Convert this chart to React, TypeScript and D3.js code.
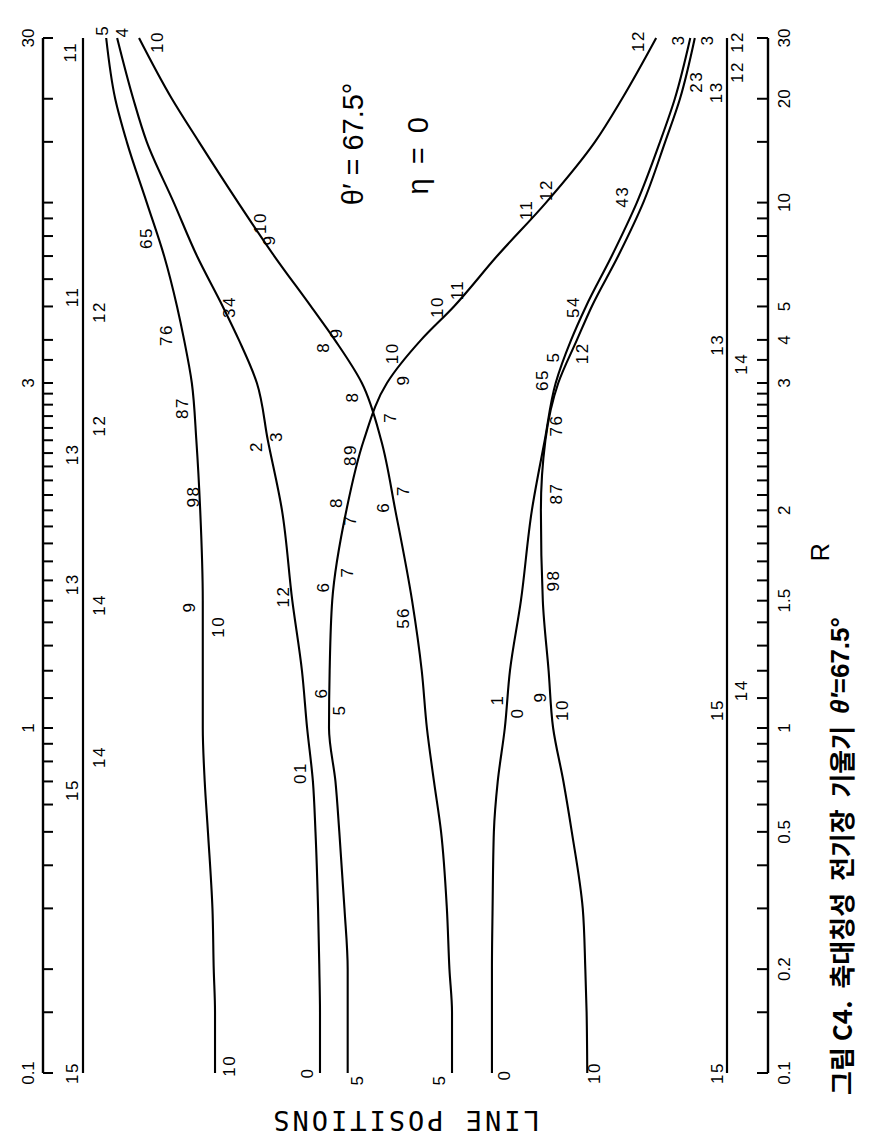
import React from 'react';
import * as d3 from 'd3';

// R values at which the curves were read
const R_GRID = [0.1, 0.15, 0.2, 0.3, 0.5, 0.7, 1, 1.2, 1.5, 2, 2.5, 3, 4, 5, 7, 10, 15, 20, 30];

// line positions (0 = upper outer line, 100 = lower outer line)
const lineB = [20.5, 20.5, 20.3, 20.1, 19.4, 18.9, 18.6, 18.6, 18.6, 18.2, 17.6, 16.9, 15.7, 14.6, 12.6, 9.9, 6.8, 5.0, 3.6];
const lineC = [36.8, 36.8, 36.7, 36.5, 36.1, 35.7, 34.8, 34.0, 32.5, 30.9, 28.7, 27.0, 24.2, 21.7, 17.7, 14.1, 9.9, 7.8, 5.3];
const lineD = [41.1, 41.1, 41.1, 40.6, 39.8, 39.2, 38.2, 38.3, 38.7, 40.9, 43.6, 47.2, 52.5, 57.6, 64.3, 71.9, 79.5, 83.7, 89.0];
const lineE = [57.3, 57.3, 56.9, 56.5, 55.6, 54.5, 53.4, 52.6, 51.1, 48.5, 46.3, 43.3, 39.1, 35.4, 29.7, 24.1, 18.0, 13.8, 8.7];
const lineF = [63.5, 63.5, 63.5, 63.6, 63.8, 64.4, 65.5, 66.3, 68.0, 69.7, 71.7, 73.4, 75.8, 78.1, 82.1, 86.0, 89.6, 91.9, 94.3];
const lineG = [78.3, 78.2, 78.0, 77.6, 75.9, 74.6, 73.0, 72.3, 71.4, 71.1, 71.8, 73.8, 76.7, 79.0, 83.1, 87.0, 90.4, 92.7, 95.0];
const outerLines = [0, 100];

const CURVES = [lineB, lineC, lineD, lineE, lineF, lineG];

// axis ticks
const AXIS_TICKS = [
  0.1, 0.15, 0.2, 0.3, 0.4, 0.5, 0.6, 0.7, 0.8, 0.9,
  1.0, 1.1, 1.2, 1.3, 1.4, 1.5, 1.6, 1.7, 1.8, 1.9,
  2.0, 2.1, 2.2, 2.3, 2.4, 2.5, 2.6, 2.7, 2.8, 2.9,
  3, 3.5, 4, 5, 6, 7, 8, 9, 10, 15, 20, 30,
];
const BOTTOM_LABELS = [0.1, 0.2, 0.5, 1, 1.5, 2, 3, 4, 5, 10, 20, 30];
const TOP_LABELS = [0.1, 1, 3, 30];

// curve labels: [R, line position, text]
const CURVE_LABELS: [number, number, string][] = [
  [27.3, -2.0, '11'], [5.33, -1.7, '11'], [4.82, 2.6, '12'], [2.62, 2.6, '12'],
  [2.39, -1.7, '13'], [1.58, -1.7, '13'], [1.48, 2.6, '14'], [0.824, 2.6, '14'],
  [0.661, -1.7, '15'], [0.1, -1.7, '15'],
  [31.6, 3.1, '5'], [7.9, 9.9, '65'], [4.13, 12.9, '76'], [2.77, 15.5, '87'],
  [2.09, 17.1, '98'], [1.47, 16.6, '9'], [1.38, 21.0, '10'], [0.105, 22.8, '10'],
  [0.1, 34.9, '0'], [0.741, 33.7, '01'], [1.118, 37.1, '6'], [1.52, 31.1, '12'],
  [2.45, 27.0, '2'], [2.53, 30.1, '3'], [4.98, 22.8, '34'], [31.2, 6.2, '4'],
  [0.0954, 42.7, '5'], [1.059, 39.9, '5'], [1.567, 37.3, '6'], [1.643, 41.1, '7'],
  [1.94, 41.5, '7'], [2.05, 39.4, '8'], [2.385, 41.5, '89'], [2.87, 41.9, '8'],
  [2.69, 47.7, '7'], [3.06, 49.7, '9'], [3.66, 48.1, '10'], [4.98, 55.0, '10'],
  [5.58, 58.1, '11'], [9.52, 68.9, '11'], [10.88, 72.0, '12'], [29.4, 86.2, '12'],
  [0.0954, 55.4, '5'], [1.42, 49.7, '56'], [2.02, 46.6, '6'], [2.13, 49.7, '7'],
  [3.81, 37.3, '8'], [4.19, 39.4, '9'], [7.79, 29.0, '9'], [8.73, 27.5, '10'],
  [29.2, 11.5, '10'],
  [0.0987, 65.5, '0'], [1.093, 64.3, '1'], [1.049, 67.5, '0'], [1.104, 71.0, '9'],
  [1.059, 74.5, '10'], [0.1, 79.5, '10'], [1.6, 73.0, '98'], [2.11, 73.6, '87'],
  [2.62, 73.6, '76'], [3.06, 71.4, '65'], [3.57, 73.0, '5'], [3.66, 77.6, '12'],
  [4.98, 76.1, '54'], [10.4, 83.7, '43'], [22.4, 95.3, '23'], [29.6, 92.4, '3'],
  [29.6, 96.9, '3'],
  [29.2, 101.7, '12'], [23.9, 101.7, '12'], [20.9, 98.4, '13'], [3.87, 98.6, '13'],
  [3.41, 102.2, '14'], [1.128, 102.3, '14'], [1.059, 98.6, '15'], [0.1, 98.6, '15'],
];

const W = 886;
const H = 1140;

export default function App() {
  // chart is drawn in its original orientation and turned 90° counter-clockwise
  const rScale = d3.scaleLog().domain([0.1, 1, 3, 30]).range([67, 412, 757, 1102]);
  const pScale = d3.scaleLinear().domain([0, 100]).range([83, 727]);

  const line = d3
    .line<number>()
    .x((_, i) => rScale(R_GRID[i]))
    .y((d) => pScale(d))
    .curve(d3.curveMonotoneX);

  const topAxisY = 43;
  const bottomAxisY = 768;
  const num = 'Liberation Sans, Arial, sans-serif';
  const fmt = (v: number) => String(v);

  return (
    <svg width={W} height={H} style={{ position: 'absolute', left: 0, top: 0, background: '#fff' }}>
      <rect x={0} y={0} width={W} height={H} fill="#fff" />
      <g transform={`translate(0,${H}) rotate(-90)`}>
        {/* top axis */}
        <line x1={rScale(0.1)} x2={rScale(30)} y1={topAxisY} y2={topAxisY} stroke="#000" strokeWidth={2.4} />
        {AXIS_TICKS.map((t) => (
          <line key={'tt' + t} x1={rScale(t)} x2={rScale(t)} y1={topAxisY} y2={topAxisY + 10} stroke="#000" strokeWidth={2} />
        ))}
        {TOP_LABELS.map((t) => (
          <text key={'tl' + t} x={rScale(t)} y={topAxisY - 15} fontFamily={num} fontSize={17} textAnchor="middle" dominantBaseline="central">
            {fmt(t)}
          </text>
        ))}
        {/* bottom axis */}
        <line x1={rScale(0.1)} x2={rScale(30)} y1={bottomAxisY} y2={bottomAxisY} stroke="#000" strokeWidth={2.4} />
        {AXIS_TICKS.map((t) => (
          <line key={'bt' + t} x1={rScale(t)} x2={rScale(t)} y1={bottomAxisY} y2={bottomAxisY - 11} stroke="#000" strokeWidth={2} />
        ))}
        {BOTTOM_LABELS.map((t) => (
          <text key={'bl' + t} x={rScale(t)} y={bottomAxisY + 16} fontFamily={num} fontSize={17} textAnchor="middle" dominantBaseline="central">
            {fmt(t)}
          </text>
        ))}
        {/* outer constant lines */}
        {outerLines.map((p) => (
          <line key={'ol' + p} x1={rScale(0.1)} x2={rScale(30)} y1={pScale(p)} y2={pScale(p)} stroke="#000" strokeWidth={2.2} />
        ))}
        {/* curves */}
        {CURVES.map((c, i) => (
          <path key={'c' + i} d={line(c) || ''} fill="none" stroke="#000" strokeWidth={2.1} />
        ))}
        {/* curve labels */}
        {CURVE_LABELS.map(([r, p, s], i) => (
          <text key={'lb' + i} x={rScale(r)} y={pScale(p)} fontFamily={num} fontSize={17} letterSpacing={1.5} textAnchor="middle" dominantBaseline="central">
            {s}
          </text>
        ))}
        {/* annotations */}
        <text x={rScale(14.8)} y={353} fontFamily={num} fontSize={29} textAnchor="middle" dominantBaseline="central">
          θ′ = 67.5°
        </text>
        <text x={rScale(13.8)} y={418} fontFamily={num} fontSize={29} textAnchor="middle" dominantBaseline="central" letterSpacing={3}>
          η = 0
        </text>
        <text x={rScale(1.75)} y={820} fontFamily={num} fontSize={25} textAnchor="middle" dominantBaseline="central">
          R
        </text>
        <text
          transform={`translate(20,${pScale(50)}) rotate(-90)`}
          fontFamily="DejaVu Sans Mono, monospace"
          fontSize={27}
          letterSpacing={3}
          textAnchor="middle"
          dominantBaseline="central"
        >
          LINE POSITIONS
        </text>
        <text x={45} y={840} fontFamily="Noto Sans CJK KR, sans-serif" fontSize={26} fontWeight={700} dominantBaseline="central" style={{ whiteSpace: 'pre' }}>
          {'그림 C4.  축대칭성  전기장  기울기  '}
          <tspan fontFamily="Liberation Sans, Arial, sans-serif" fontStyle="italic">θ′</tspan>
          <tspan fontFamily="Liberation Sans, Arial, sans-serif">=67.5°</tspan>
        </text>
      </g>
    </svg>
  );
}
